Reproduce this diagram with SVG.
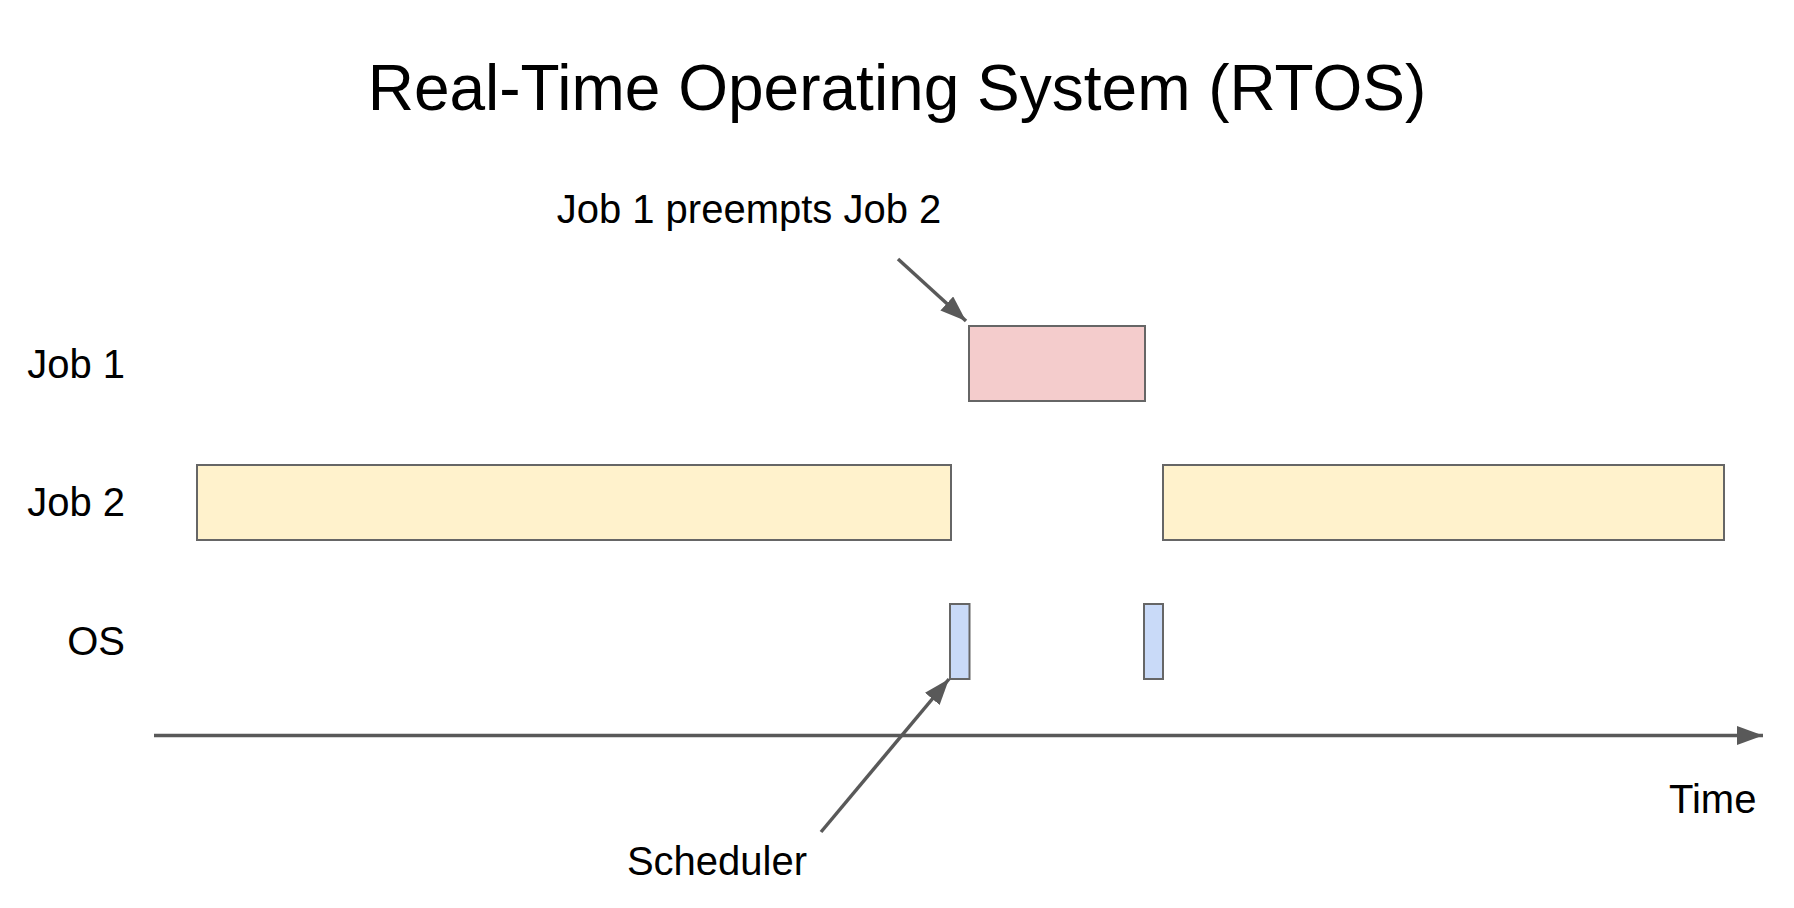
<svg xmlns="http://www.w3.org/2000/svg" width="1794" height="908" viewBox="0 0 1794 908">
<defs>
<style>
text{font-family:"Liberation Sans",Arial,sans-serif;fill:#000}
.lbl{font-size:40px}
.bar{stroke:#666;stroke-width:2}
.conn{stroke:#595959;stroke-width:3.5;fill:none}
</style>
<marker id="ah" markerUnits="userSpaceOnUse" markerWidth="28" markerHeight="20" refX="26" refY="9.5" orient="auto">
<path d="M0,0 L26,9.5 L0,19 z" fill="#595959"/>
</marker>
</defs>
<rect width="1794" height="908" fill="#fff"/>
<g id="title"><text x="897" y="110" font-size="64" text-anchor="middle">Real-Time Operating System (RTOS)</text></g>
<g id="row-labels">
<text class="lbl" x="125" y="378" text-anchor="end">Job 1</text>
<text class="lbl" x="125" y="516" text-anchor="end">Job 2</text>
<text class="lbl" x="125" y="655" text-anchor="end">OS</text>
</g>
<g id="job1"><rect class="bar" x="969" y="326" width="176" height="75" fill="#f4cccc"/></g>
<g id="job2a"><rect class="bar" x="197" y="465" width="754" height="75" fill="#fff2cc"/></g>
<g id="job2b"><rect class="bar" x="1163" y="465" width="561" height="75" fill="#fff2cc"/></g>
<g id="os1"><rect class="bar" x="950" y="604" width="19.5" height="75" fill="#c9daf8"/></g>
<g id="os2"><rect class="bar" x="1144" y="604" width="19" height="75" fill="#c9daf8"/></g>
<g id="preempt-label"><text class="lbl" x="749" y="223" text-anchor="middle">Job 1 preempts Job 2</text></g>
<g id="scheduler-label"><text class="lbl" x="717" y="875" text-anchor="middle">Scheduler</text></g>
<g id="time-label"><text class="lbl" x="1669" y="813">Time</text></g>
<g id="connectors">
<line class="conn" x1="154" y1="735.5" x2="1763" y2="735.5" marker-end="url(#ah)"/>
<line class="conn" x1="898" y1="259" x2="966" y2="321" marker-end="url(#ah)"/>
<line class="conn" x1="821" y1="832" x2="949" y2="679" marker-end="url(#ah)"/>
</g>
</svg>
